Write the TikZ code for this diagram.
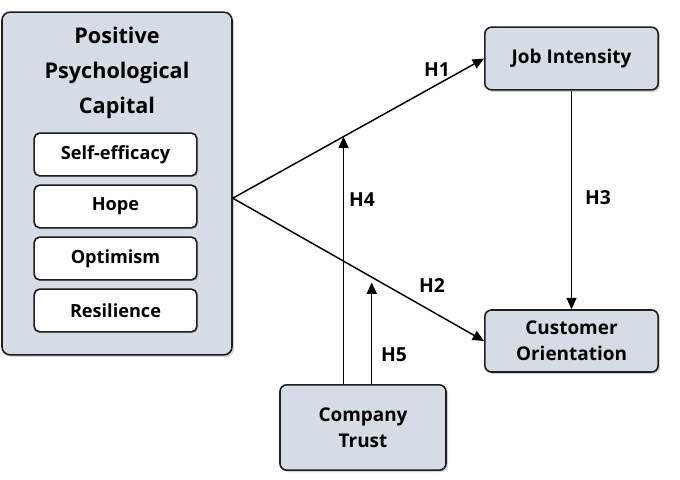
\documentclass[tikz,border=0pt]{standalone}
\usepackage{fontspec}
\setmainfont{Open Sans}
\usetikzlibrary{arrows.meta,positioning,shadows,calc}
\definecolor{boxgray}{RGB}{214,220,229}
\definecolor{edgeblack}{RGB}{30,30,30}

\begin{document}
\begin{tikzpicture}[x=0.75pt,y=-0.75pt,
    var/.style={rectangle, rounded corners=5pt, draw=edgeblack, line width=1.2pt, fill=boxgray,
        minimum width=130pt, align=center, font=\fontsize{14.2}{19.5}\selectfont\bfseries,
        drop shadow={shadow xshift=1.5pt, shadow yshift=-1.5pt, opacity=0.35}},
    sub/.style={rectangle, rounded corners=4pt, draw=edgeblack, line width=1.2pt, fill=white,
        minimum width=122pt, minimum height=32pt, font=\fontsize{13.6}{16}\selectfont\bfseries,
        drop shadow={shadow xshift=1pt, shadow yshift=-1pt, opacity=0.3}},
    hyp/.style={font=\fontsize{14.5}{16}\selectfont\bfseries},
    link/.style={-{Triangle[length=8.5pt,width=7.5pt]}, line width=1.1pt}
]
\useasboundingbox (0,0) rectangle (680,479);

% Positive psychological capital
\node (ppc) [var, minimum width=172.5pt, minimum height=257pt, rounded corners=6pt] at (117,183.5) {};
\node (title) [align=center, font=\fontsize{16.2}{26}\selectfont\bfseries] at (117,73) {Positive\\Psychological\\Capital};
\node (self) [sub] at (115.5,154.5) {Self-efficacy};
\node (hope) [sub] at (115.5,206.5) {Hope};
\node (opt) [sub] at (115.5,258.5) {Optimism};
\node (res) [sub] at (115.5,310.5) {Resilience};

% Outcomes and moderator
\node (job) [var, minimum height=47pt] at (571.5,58.5) {Job Intensity};
\node (cust) [var, minimum height=46.5pt] at (571.5,341) {Customer\\Orientation};
\node (trust) [var, minimum width=124.5pt, minimum height=64pt] at (363,427.5) {Company\\Trust};

% Paths
\coordinate (src) at ([yshift=-11pt]ppc.east);
\draw[link] (src) -- (job.west) coordinate[pos=0.4407] (m1);
\draw[link] (src) -- (cust.west) coordinate[pos=0.553] (m2);
\draw[link] (job.south) -- (cust.north);
\draw[link] (m1 |- trust.north) -- (m1);
\draw[link] (m2 |- trust.north) -- ([yshift=-4pt]m2);

% Hypotheses
\node (h1) [hyp] at (437,70) {H1};
\node (h2) [hyp] at (432,285) {H2};
\node (h3) [hyp] at (598,198) {H3};
\node (h4) [hyp] at (362,200) {H4};
\node (h5) [hyp] at (394,355) {H5};

\end{tikzpicture}
\end{document}
